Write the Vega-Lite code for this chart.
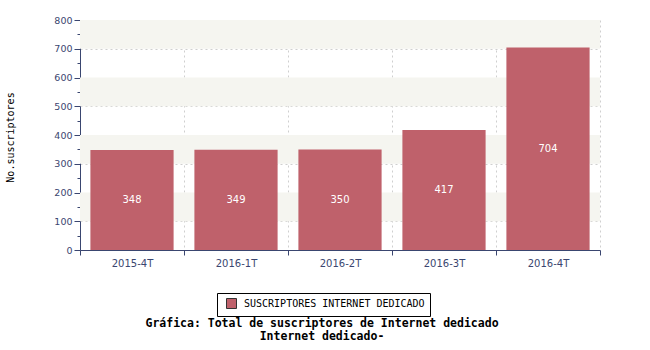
{
  "$schema": "https://vega.github.io/schema/vega-lite/v6.json",
  "width": 520,
  "height": 230,
  "autosize": "none",
  "padding": {"left": 80, "top": 20, "right": 50, "bottom": 100},
  "background": "white",
  "config": {
    "view": {"stroke": null},
    "font": "DejaVu Sans Mono"
  },
  "datasets": {
    "main": [
      {"periodo": "2015-4T", "valor": 348, "serie": "SUSCRIPTORES INTERNET DEDICADO"},
      {"periodo": "2016-1T", "valor": 349, "serie": "SUSCRIPTORES INTERNET DEDICADO"},
      {"periodo": "2016-2T", "valor": 350, "serie": "SUSCRIPTORES INTERNET DEDICADO"},
      {"periodo": "2016-3T", "valor": 417, "serie": "SUSCRIPTORES INTERNET DEDICADO"},
      {"periodo": "2016-4T", "valor": 704, "serie": "SUSCRIPTORES INTERNET DEDICADO"}
    ],
    "bands": [
      {"lo": 100, "hi": 200},
      {"lo": 300, "hi": 400},
      {"lo": 500, "hi": 600},
      {"lo": 700, "hi": 800}
    ]
  },
  "title": {
    "text": ["Gráfica: Total de suscriptores de Internet dedicado", "Internet dedicado-"],
    "orient": "bottom",
    "anchor": "middle",
    "frame": "group",
    "font": "DejaVu Sans Mono",
    "fontWeight": "bold",
    "fontSize": 11.5,
    "lineHeight": 13,
    "color": "black",
    "offset": 1,
    "dx": -18
  },
  "layer": [
    {
      "data": {"name": "bands"},
      "mark": {"type": "rect", "color": "#f5f5f0"},
      "encoding": {
        "y": {"field": "lo", "type": "quantitative", "scale": {"domain": [0, 800]}, "axis": null},
        "y2": {"field": "hi"}
      }
    },
    {
      "data": {"name": "main"},
      "mark": {"type": "bar", "color": "#bf616b", "width": {"band": 0.8}},
      "encoding": {
        "x": {
          "field": "periodo",
          "type": "nominal",
          "sort": null,
          "scale": {"paddingInner": 0, "paddingOuter": 0},
          "axis": {
            "title": null,
            "labelAngle": 0,
            "tickBand": "extent",
            "domainColor": "#3a4670",
            "tickColor": "#3a4670",
            "tickSize": 5,
            "labelColor": "#3a4670",
            "labelFont": "DejaVu Sans",
            "labelFontSize": 10,
            "labelPadding": 3,
            "grid": true,
            "gridColor": "#cfcfcf",
            "gridDash": [2, 3],
            "gridWidth": 1
          }
        },
        "y": {
          "field": "valor",
          "type": "quantitative",
          "scale": {"domain": [0, 800], "nice": false},
          "axis": {
            "title": "No.suscriptores",
            "titleFont": "DejaVu Sans Mono",
            "titleFontSize": 10,
            "titleFontWeight": "normal",
            "titleColor": "black",
            "titleAngle": -90,
            "titleX": -70,
            "titleY": 117,
            "titleAlign": "center",
            "titleBaseline": "middle",
            "values": [0, 50, 100, 150, 200, 250, 300, 350, 400, 450, 500, 550, 600, 650, 700, 750, 800],
            "labelExpr": "datum.value % 100 === 0 ? datum.label : ''",
            "tickSize": {"condition": {"test": "datum.value % 100 === 0", "value": 6}, "value": 3},
            "domainColor": "#3a4670",
            "tickColor": "#3a4670",
            "labelColor": "#3a4670",
            "labelFont": "DejaVu Sans",
            "labelFontSize": 9.5,
            "labelPadding": 2,
            "grid": true,
            "gridColor": "#cfcfcf",
            "gridDash": [2, 3],
            "gridOpacity": {"condition": {"test": "datum.value % 100 === 0", "value": 1}, "value": 0}
          }
        },
        "color": {
          "field": "serie",
          "type": "nominal",
          "scale": {"range": ["#bf616b"]},
          "legend": {
            "title": null,
            "orient": "none",
            "legendX": 137,
            "legendY": 273,
            "direction": "horizontal",
            "strokeColor": "black",
            "fillColor": "white",
            "padding": 5,
            "symbolOffset": 4,
            "symbolType": "square",
            "symbolSize": 100,
            "symbolStrokeColor": "#333333",
            "symbolStrokeWidth": 1,
            "symbolOpacity": 1,
            "labelFont": "DejaVu Sans Mono",
            "labelFontSize": 10,
            "labelColor": "black",
            "labelOffset": 7,
            "labelLimit": 400
          }
        }
      }
    },
    {
      "data": {"name": "main"},
      "mark": {"type": "text", "color": "white", "font": "DejaVu Sans", "fontSize": 10, "baseline": "middle"},
      "encoding": {
        "x": {"field": "periodo", "type": "nominal", "sort": null},
        "y": {"field": "valor", "type": "quantitative", "scale": {"domain": [0, 1600], "nice": false}, "axis": null},
        "text": {"field": "valor", "type": "quantitative"}
      }
    }
  ],
  "resolve": {"scale": {"y": "independent"}}
}
